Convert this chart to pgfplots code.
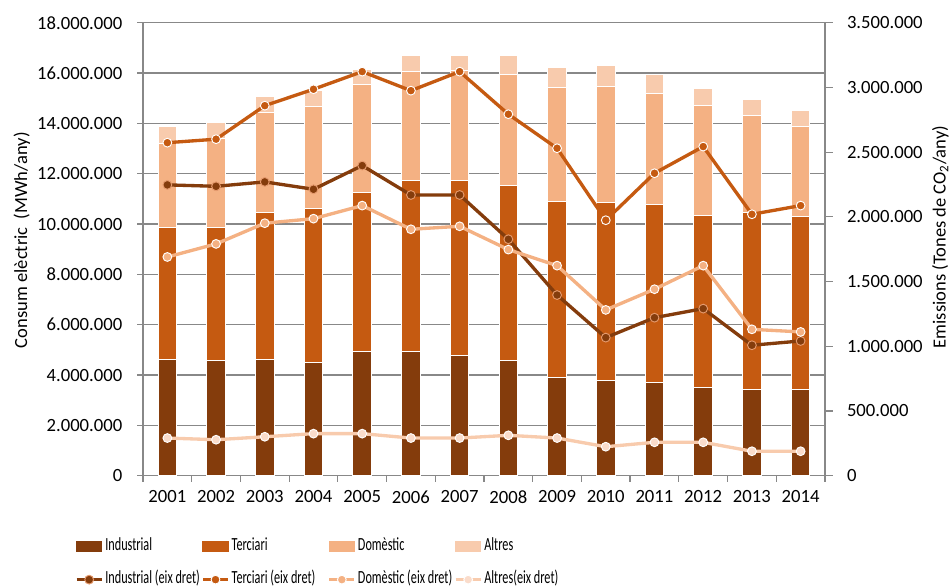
\documentclass[border=0pt]{standalone}
\usepackage{fontspec}
\setmainfont{Carlito}
\usepackage{graphicx}
\usepackage{pgfplots}
\usepackage{pgfplotstable}
\pgfplotsset{compat=1.18}
\definecolor{cInd}{HTML}{843C0C}
\definecolor{cTer}{HTML}{C55A11}
\definecolor{cDom}{HTML}{F4B183}
\definecolor{cAlt}{HTML}{F8CBAD}
\definecolor{cAltM}{HTML}{FADCCB}
\definecolor{cIndE}{HTML}{E59A6E}
\definecolor{axgray}{HTML}{888888}
\newcommand{\lt}[1]{\makebox[73.5pt][l]{\hspace{1.5pt}\scalebox{0.66}[1]{#1}}}

\pgfplotstableread{
year ind ter dom alt
2001 4600000 5270000 3330000 690000
2002 4560000 5310000 3530000 650000
2003 4600000 5850000 3970000 640000
2004 4490000 6120000 4080000 610000
2005 4930000 6330000 4270000 630000
2006 4950000 6790000 4340000 610000
2007 4790000 6950000 4360000 590000
2008 4560000 6990000 4380000 760000
2009 3890000 7020000 4510000 800000
2010 3770000 7090000 4610000 820000
2011 3710000 7080000 4390000 750000
2012 3500000 6820000 4400000 680000
2013 3440000 7010000 3870000 620000
2014 3440000 6840000 3610000 640000
}\bars

\pgfplotstableread{
year ind ter dom alt
2001 2247000 2573000 1690000 291000
2002 2236000 2600000 1791000 278000
2003 2270000 2859000 1951000 301000
2004 2213000 2986000 1986000 325000
2005 2396000 3122000 2087000 325000
2006 2169000 2975000 1904000 291000
2007 2169000 3122000 1927000 291000
2008 1827000 2793000 1747000 312000
2009 1396000 2530000 1623000 291000
2010 1067000 1974000 1281000 224000
2011 1221000 2337000 1441000 258000
2012 1291000 2543000 1623000 258000
2013 1008000 2020000 1131000 189000
2014 1041000 2087000 1111000 189000
}\emis

\pgfplotsset{
  common/.style={
    at={(0,0)}, anchor=south west,
    scale only axis, width=511.5pt, height=339.75pt,
    xmin=2000.5, xmax=2014.5, ymin=0,
    axis line style={draw=axgray, line width=0.9pt},
    tick align=outside,
    scaled y ticks=false,
    /pgf/number format/assume math mode=true,
    tick label style={font=\fontsize{14pt}{16pt}\selectfont, text=black},
    label style={font=\fontsize{13.9pt}{16pt}\selectfont},
    yticklabel style={/pgf/number format/fixed, /pgf/number format/1000 sep={.}},
  }
}

\begin{document}
\begin{tikzpicture}
\useasboundingbox (-107.25pt,-83.475pt) rectangle (606pt,356.775pt);
\begin{axis}[common,
  ymax=18000000,
  ybar stacked, bar width=13.875pt,
  axis x line*=bottom, axis y line*=left,
  xtick={2001,...,2014},
  xticklabels={2001,2002,2003,2004,2005,2006,2007,2008,2009,2010,2011,2012,2013,2014},
  xticklabel style={yshift=-3pt},
  yticklabel style={xshift=-7.5pt},
  minor xtick={2000.5,2001.5,...,2014.5},
  major x tick style={draw=none},
  minor x tick style={draw=axgray, line width=0.9pt},
  minor tick length=4.5pt, major tick length=4.5pt,
  ytick={0,2000000,...,18000000},
  y tick style={draw=axgray, line width=0.9pt},
  ymajorgrids, grid style={draw=axgray, line width=0.9pt},
  ylabel={Consum elèctric\hspace{0.45em}(MWh/any)},
  ylabel style={at={(axis description cs:-0.1775,0.520)}, anchor=center},
]
\addplot[fill=cInd, draw=white, line width=0.75pt] table[x=year,y=ind]{\bars};
\addplot[fill=cTer, draw=white, line width=0.75pt] table[x=year,y=ter]{\bars};
\addplot[fill=cDom, draw=white, line width=0.75pt] table[x=year,y=dom]{\bars};
\addplot[fill=cAlt, draw=white, line width=0.75pt] table[x=year,y=alt]{\bars};
\end{axis}
\begin{axis}[common,
  ymax=3500000,
  axis x line=none, axis y line*=right,
  ytick={0,500000,...,3500000},
  yticklabel style={xshift=7pt},
  y tick style={draw=axgray, line width=0.9pt},
  major tick length=6pt,
  ylabel={Emissions (Tones de CO\textsubscript{2}/any)},
  ylabel style={at={(axis description cs:1.169,0.527)}, anchor=center},
  legend columns=4,
  legend style={at={(axis description cs:-0.0997,-0.1375)}, anchor=north west,
    draw=none, fill=none, inner sep=0pt, outer sep=0pt,
    column sep=0pt, row sep=12.5pt,
    font=\fontsize{13.9pt}{15pt}\selectfont,
    nodes={inner sep=0pt, text height=9.5pt, text depth=3pt}},
  legend cell align=left,
  every axis plot/.append style={line width=2.5pt, mark=*, mark size=3.3pt},
  legend image code/.code={
    \draw[mark repeat=2, mark phase=2, #1] plot coordinates {(0pt,0pt) (9.375pt,0pt) (18.75pt,0pt)};
  },
]
\addlegendimage{legend image code/.code={\fill[cInd] (0.75pt,-3pt) rectangle (18pt,3pt);}}
\addlegendentry{\lt{Industrial}}
\addlegendimage{legend image code/.code={\fill[cTer] (0.75pt,-3pt) rectangle (18pt,3pt);}}
\addlegendentry{\lt{Terciari}}
\addlegendimage{legend image code/.code={\fill[cDom] (0.75pt,-3pt) rectangle (18pt,3pt);}}
\addlegendentry{\lt{Domèstic}}
\addlegendimage{legend image code/.code={\fill[cAlt] (0.75pt,-3pt) rectangle (18pt,3pt);}}
\addlegendentry{\lt{Altres}}
\addplot[cInd, mark options={fill=cInd, draw=cIndE, line width=0.7pt}] table[x=year,y=ind]{\emis};
\addlegendentry{\lt{Industrial (eix dret)}}
\addplot[cTer, mark options={fill=cTer, draw=white, line width=0.7pt}] table[x=year,y=ter]{\emis};
\addlegendentry{\lt{Terciari (eix dret)}}
\addplot[cDom, mark options={fill=cDom, draw=white, line width=0.7pt}] table[x=year,y=dom]{\emis};
\addlegendentry{\lt{Domèstic (eix dret)}}
\addplot[cAlt, mark options={fill=cAltM, draw=white, line width=0.7pt}] table[x=year,y=alt]{\emis};
\addlegendentry{\lt{Altres(eix dret)}}
\end{axis}
\end{tikzpicture}
\end{document}
